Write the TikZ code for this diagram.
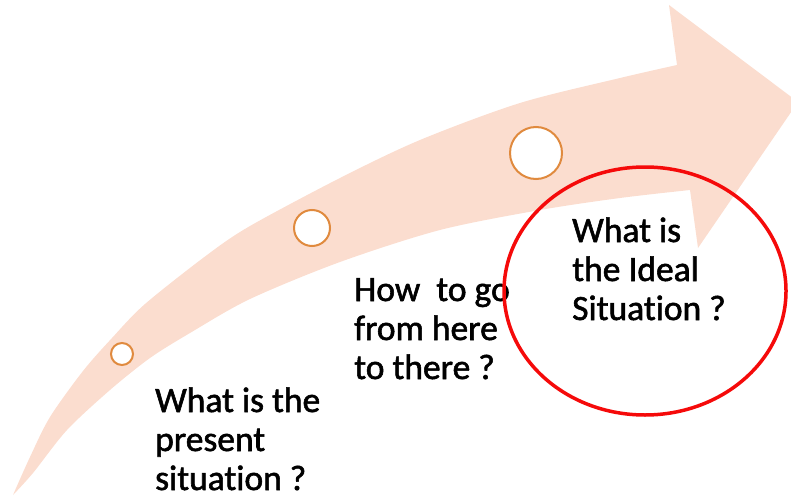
\documentclass[tikz,border=0pt]{standalone}
\usepackage{fontspec}
\setmainfont{Carlito}[Ligatures=NoCommon]
\newfontfamily\qfont{Carlito}[Ligatures=NoCommon,FakeBold=1.6]
\usetikzlibrary{shapes.geometric}
\definecolor{arrowpeach}{RGB}{251,221,207}
\definecolor{dotorange}{RGB}{224,138,62}
\definecolor{ringred}{RGB}{245,10,10}
\tikzset{
  stepdot/.style={circle,draw=dotorange,line width=2pt,fill=white,inner sep=0pt},
  question/.style={anchor=base west,inner sep=0pt,text=black,
    font=\qfont\fontsize{35.5}{39}\selectfont},
  goalring/.style={ellipse,draw=ringred,line width=3.5pt,inner sep=0pt}
}
\newcommand{\qlines}[1]{\begin{tabular}[t]{@{}l@{}}#1\end{tabular}}
\begin{document}
\begin{tikzpicture}[x=1pt,y=-1pt]
\useasboundingbox (0,0) rectangle (791,497);
\clip (0,0) rectangle (791,497);
% curved arrow: upper edge of the shaft, head, lower edge back to the tail
\fill[arrowpeach]
  plot[smooth,tension=0.5] coordinates {(13,495) (30,457) (50,417) (83,371) (112,338) (145,304) (207,255) (250,226) (340,178) (420,140) (520,103) (620,78) (677,65)}
  -- (669,5) -- (798,102) -- (698,248) -- (690,190)
  -- plot[smooth,tension=0.5] coordinates {(690,190) (620,198) (540,210) (440,230) (340,262) (250,299) (190,333) (150,358) (110,390) (67,430) (33,473) (13,495)}
  -- cycle;
% milestones along the arrow
\node[stepdot,minimum size=22pt] (m1) at (122,354) {};
\node[stepdot,minimum size=36pt] (m2) at (312,228) {};
\node[stepdot,minimum size=52pt] (m3) at (536,153) {};
% questions
\node[question] (q1) at (155,412) {\qlines{What is the\\present\\situation ?}};
\node[question] (q2) at (354,301) {\qlines{How\ \ to go\\from here\\to there ?}};
\node[question] (q3) at (572,242) {\qlines{What is\\the Ideal\\Situation ?}};
% highlight around the goal
\node[goalring,minimum width=282pt,minimum height=248pt] (goal) at (645,291) {};
\end{tikzpicture}
\end{document}
